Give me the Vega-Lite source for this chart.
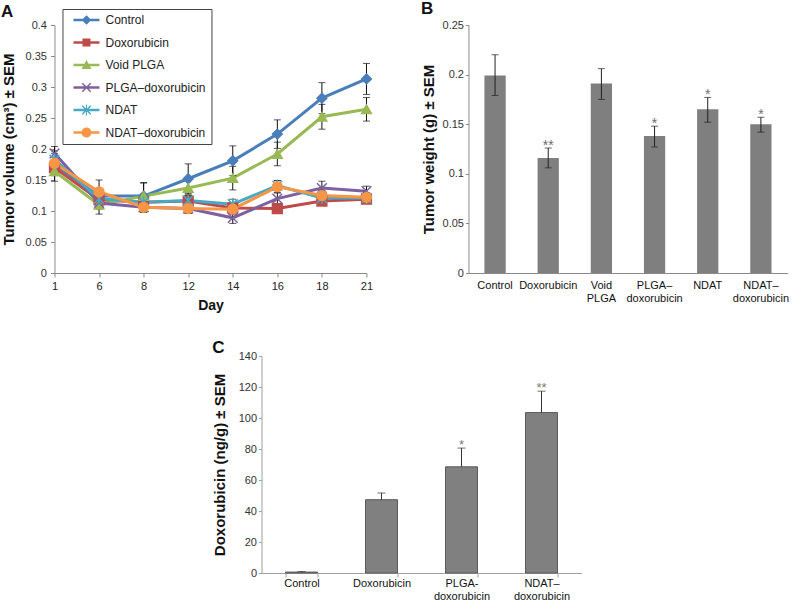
{
  "$schema": "https://vega.github.io/schema/vega-lite/v6.json",
  "padding": {"left": 1, "top": 0, "right": 0, "bottom": 0},
  "background": "white",
  "center": true,
  "spacing": 27,
  "config": {
    "view": {"stroke": null},
    "font": "Liberation Sans",
    "axis": {
      "domainColor": "#8a8a8a", "tickColor": "#8a8a8a", "labelColor": "#333333",
      "labelFont": "Liberation Sans", "labelFontSize": 11, "labelOverlap": false,
      "titleFont": "Liberation Sans", "titleFontSize": 15, "titleFontWeight": "bold", "titleColor": "#111111",
      "grid": false, "tickSize": 4
    },
    "title": {"font": "Liberation Sans", "fontSize": 17, "fontWeight": "bold", "anchor": "start", "frame": "bounds", "color": "#111111", "offset": 3}
  },
  "vconcat": [
    {
      "hconcat": [
        {
          "title": {"text": "A", "offset": -12},
          "width": 312,
          "height": 248,
          "data": {"values": [
            {"series": "Control", "day": 1, "v": 0.175, "lo": 0.163, "hi": 0.187},
            {"series": "Control", "day": 6, "v": 0.124, "lo": 0.112, "hi": 0.136},
            {"series": "Control", "day": 8, "v": 0.124, "lo": 0.102, "hi": 0.146},
            {"series": "Control", "day": 12, "v": 0.152, "lo": 0.128, "hi": 0.176},
            {"series": "Control", "day": 14, "v": 0.181, "lo": 0.157, "hi": 0.205},
            {"series": "Control", "day": 16, "v": 0.224, "lo": 0.201, "hi": 0.247},
            {"series": "Control", "day": 18, "v": 0.282, "lo": 0.257, "hi": 0.307},
            {"series": "Control", "day": 21, "v": 0.313, "lo": 0.288, "hi": 0.338},
            {"series": "Doxorubicin", "day": 1, "v": 0.170, "lo": 0.160, "hi": 0.180},
            {"series": "Doxorubicin", "day": 6, "v": 0.118, "lo": 0.108, "hi": 0.128},
            {"series": "Doxorubicin", "day": 8, "v": 0.114, "lo": 0.105, "hi": 0.123},
            {"series": "Doxorubicin", "day": 12, "v": 0.116, "lo": 0.106, "hi": 0.126},
            {"series": "Doxorubicin", "day": 14, "v": 0.105, "lo": 0.097, "hi": 0.113},
            {"series": "Doxorubicin", "day": 16, "v": 0.104, "lo": 0.096, "hi": 0.112},
            {"series": "Doxorubicin", "day": 18, "v": 0.116, "lo": 0.109, "hi": 0.123},
            {"series": "Doxorubicin", "day": 21, "v": 0.119, "lo": 0.113, "hi": 0.125},
            {"series": "Void PLGA", "day": 1, "v": 0.164, "lo": 0.148, "hi": 0.180},
            {"series": "Void PLGA", "day": 6, "v": 0.110, "lo": 0.095, "hi": 0.125},
            {"series": "Void PLGA", "day": 8, "v": 0.124, "lo": 0.103, "hi": 0.145},
            {"series": "Void PLGA", "day": 12, "v": 0.137, "lo": 0.125, "hi": 0.149},
            {"series": "Void PLGA", "day": 14, "v": 0.153, "lo": 0.134, "hi": 0.172},
            {"series": "Void PLGA", "day": 16, "v": 0.192, "lo": 0.173, "hi": 0.211},
            {"series": "Void PLGA", "day": 18, "v": 0.252, "lo": 0.232, "hi": 0.272},
            {"series": "Void PLGA", "day": 21, "v": 0.264, "lo": 0.245, "hi": 0.283},
            {"series": "PLGA–doxorubicin", "day": 1, "v": 0.193, "lo": 0.182, "hi": 0.204},
            {"series": "PLGA–doxorubicin", "day": 6, "v": 0.113, "lo": 0.103, "hi": 0.123},
            {"series": "PLGA–doxorubicin", "day": 8, "v": 0.106, "lo": 0.098, "hi": 0.114},
            {"series": "PLGA–doxorubicin", "day": 12, "v": 0.104, "lo": 0.096, "hi": 0.112},
            {"series": "PLGA–doxorubicin", "day": 14, "v": 0.089, "lo": 0.080, "hi": 0.098},
            {"series": "PLGA–doxorubicin", "day": 16, "v": 0.120, "lo": 0.110, "hi": 0.130},
            {"series": "PLGA–doxorubicin", "day": 18, "v": 0.137, "lo": 0.126, "hi": 0.148},
            {"series": "PLGA–doxorubicin", "day": 21, "v": 0.132, "lo": 0.124, "hi": 0.140},
            {"series": "NDAT", "day": 1, "v": 0.183, "lo": 0.173, "hi": 0.193},
            {"series": "NDAT", "day": 6, "v": 0.120, "lo": 0.110, "hi": 0.130},
            {"series": "NDAT", "day": 8, "v": 0.114, "lo": 0.106, "hi": 0.122},
            {"series": "NDAT", "day": 12, "v": 0.117, "lo": 0.109, "hi": 0.125},
            {"series": "NDAT", "day": 14, "v": 0.111, "lo": 0.103, "hi": 0.119},
            {"series": "NDAT", "day": 16, "v": 0.141, "lo": 0.133, "hi": 0.149},
            {"series": "NDAT", "day": 18, "v": 0.121, "lo": 0.113, "hi": 0.129},
            {"series": "NDAT", "day": 21, "v": 0.121, "lo": 0.114, "hi": 0.128},
            {"series": "NDAT–doxorubicin", "day": 1, "v": 0.177, "lo": 0.157, "hi": 0.197},
            {"series": "NDAT–doxorubicin", "day": 6, "v": 0.131, "lo": 0.112, "hi": 0.150},
            {"series": "NDAT–doxorubicin", "day": 8, "v": 0.106, "lo": 0.098, "hi": 0.114},
            {"series": "NDAT–doxorubicin", "day": 12, "v": 0.104, "lo": 0.096, "hi": 0.112},
            {"series": "NDAT–doxorubicin", "day": 14, "v": 0.103, "lo": 0.095, "hi": 0.111},
            {"series": "NDAT–doxorubicin", "day": 16, "v": 0.139, "lo": 0.129, "hi": 0.149},
            {"series": "NDAT–doxorubicin", "day": 18, "v": 0.125, "lo": 0.117, "hi": 0.133},
            {"series": "NDAT–doxorubicin", "day": 21, "v": 0.122, "lo": 0.114, "hi": 0.130}
          ]},
          "encoding": {
            "x": {
              "field": "day", "type": "ordinal",
              "scale": {"type": "point", "padding": 0},
              "axis": {"title": "Day", "titleFontSize": 14, "labelAngle": 0, "labelPadding": 3, "titlePadding": 7, "labelColor": "#222222"}
            }
          },
          "layer": [
            {
              "mark": {"type": "line", "strokeWidth": 3},
              "encoding": {
                "y": {
                  "field": "v", "type": "quantitative",
                  "scale": {"domain": [0, 0.4], "nice": false},
                  "axis": {"title": "Tumor volume (cm³) ± SEM", "values": [0, 0.05, 0.1, 0.15, 0.2, 0.25, 0.3, 0.35, 0.4], "tickCount": 20, "format": ".2~f", "labelOverlap": false, "labelPadding": 4, "titlePadding": 9}
                },
                "color": {
                  "field": "series", "type": "nominal", "legend": null,
                  "scale": {
                    "domain": ["Control", "Doxorubicin", "Void PLGA", "PLGA–doxorubicin", "NDAT", "NDAT–doxorubicin"],
                    "range": ["#4a7ebb", "#be4b48", "#98b954", "#7d60a0", "#46aac5", "#f79646"]
                  }
                }
              }
            },
            {
              "mark": {"type": "rule", "color": "#111111", "strokeWidth": 1},
              "encoding": {
                "y": {"field": "lo", "type": "quantitative", "axis": {"title": "Tumor volume (cm³) ± SEM", "values": [0, 0.05, 0.1, 0.15, 0.2, 0.25, 0.3, 0.35, 0.4], "tickCount": 20, "format": ".2~f", "labelOverlap": false, "labelPadding": 4, "titlePadding": 9}},
                "y2": {"field": "hi"}
              }
            },
            {
              "mark": {"type": "tick", "color": "#111111", "size": 7, "thickness": 1},
              "encoding": {"y": {"field": "lo", "type": "quantitative", "axis": {"title": "Tumor volume (cm³) ± SEM", "values": [0, 0.05, 0.1, 0.15, 0.2, 0.25, 0.3, 0.35, 0.4], "tickCount": 20, "format": ".2~f", "labelOverlap": false, "labelPadding": 4, "titlePadding": 9}}}
            },
            {
              "mark": {"type": "tick", "color": "#111111", "size": 7, "thickness": 1},
              "encoding": {"y": {"field": "hi", "type": "quantitative", "axis": {"title": "Tumor volume (cm³) ± SEM", "values": [0, 0.05, 0.1, 0.15, 0.2, 0.25, 0.3, 0.35, 0.4], "tickCount": 20, "format": ".2~f", "labelOverlap": false, "labelPadding": 4, "titlePadding": 9}}}
            },
            {
              "mark": {"type": "point", "filled": true, "strokeWidth": 1.5, "opacity": 1, "size": 95},
              "encoding": {
                "y": {"field": "v", "type": "quantitative", "axis": {"title": "Tumor volume (cm³) ± SEM", "values": [0, 0.05, 0.1, 0.15, 0.2, 0.25, 0.3, 0.35, 0.4], "tickCount": 20, "format": ".2~f", "labelOverlap": false, "labelPadding": 4, "titlePadding": 9}},
                "color": {
                  "field": "series", "type": "nominal", "legend": null,
                  "scale": {
                    "domain": ["Control", "Doxorubicin", "Void PLGA", "PLGA–doxorubicin", "NDAT", "NDAT–doxorubicin"],
                    "range": ["#4a7ebb", "#be4b48", "#98b954", "#7d60a0", "#46aac5", "#f79646"]
                  }
                },
                "stroke": {
                  "field": "series", "type": "nominal", "legend": null,
                  "scale": {
                    "domain": ["Control", "Doxorubicin", "Void PLGA", "PLGA–doxorubicin", "NDAT", "NDAT–doxorubicin"],
                    "range": ["#4a7ebb", "#be4b48", "#98b954", "#7d60a0", "#46aac5", "#f79646"]
                  }
                },
                "shape": {
                  "field": "series", "type": "nominal", "legend": null,
                  "scale": {
                    "domain": ["Control", "Doxorubicin", "Void PLGA", "PLGA–doxorubicin", "NDAT", "NDAT–doxorubicin"],
                    "range": ["diamond", "square", "triangle-up", "M-1,-1L1,1M-1,1L1,-1", "M-1,-1L1,1M-1,1L1,-1M0,-1.25L0,1.25", "circle"]
                  }
                }
              }
            },
            {
              "transform": [{"filter": "false"}],
              "mark": {"type": "point", "filled": true, "opacity": 1, "size": 100},
              "encoding": {
                "y": {"field": "v", "type": "quantitative", "axis": {"title": "Tumor volume (cm³) ± SEM", "values": [0, 0.05, 0.1, 0.15, 0.2, 0.25, 0.3, 0.35, 0.4], "tickCount": 20, "format": ".2~f", "labelOverlap": false, "labelPadding": 4, "titlePadding": 9}},
                "color": {
                  "field": "series", "type": "nominal",
                  "scale": {
                    "domain": ["Control", "Doxorubicin", "Void PLGA", "PLGA–doxorubicin", "NDAT", "NDAT–doxorubicin"],
                    "range": ["#4a7ebb", "#be4b48", "#98b954", "#7d60a0", "#46aac5", "#f79646"]
                  },
                  "legend": {
                    "orient": "none", "legendX": 8, "legendY": -16, "title": null,
                    "strokeColor": "#444444", "fillColor": "white", "padding": 5,
                    "labelFont": "Liberation Sans", "labelFontSize": 12, "labelColor": "#222222",
                    "symbolSize": 100, "symbolOffset": 13, "labelOffset": 13, "rowPadding": 10.5
                  }
                },
                "shape": {
                  "field": "series", "type": "nominal",
                  "scale": {
                    "domain": ["Control", "Doxorubicin", "Void PLGA", "PLGA–doxorubicin", "NDAT", "NDAT–doxorubicin"],
                    "range": [
                      "M-2.6,-0.25L2.6,-0.25L2.6,0.25L-2.6,0.25ZM0,-0.95L0.95,0L0,0.95L-0.95,0Z",
                      "M-2.6,-0.25L2.6,-0.25L2.6,0.25L-2.6,0.25ZM-0.8,-0.8L0.8,-0.8L0.8,0.8L-0.8,0.8Z",
                      "M-2.6,-0.25L2.6,-0.25L2.6,0.25L-2.6,0.25ZM0,-1L1,0.8L-1,0.8Z",
                      "M-2.6,-0.25L2.6,-0.25L2.6,0.25L-2.6,0.25ZM-0.95,-0.75L-0.75,-0.95L0.95,0.75L0.75,0.95ZM0.75,-0.95L0.95,-0.75L-0.75,0.95L-0.95,0.75Z",
                      "M-2.6,-0.25L2.6,-0.25L2.6,0.25L-2.6,0.25ZM-0.95,-0.75L-0.75,-0.95L0.95,0.75L0.75,0.95ZM0.75,-0.95L0.95,-0.75L-0.75,0.95L-0.95,0.75ZM-0.1,-1.1L0.1,-1.1L0.1,1.1L-0.1,1.1Z",
                      "M-2.6,-0.25L2.6,-0.25L2.6,0.25L-2.6,0.25ZM-1,0A1,1,0,1,1,1,0A1,1,0,1,1,-1,0Z"
                    ]
                  },
                  "legend": {
                    "orient": "none", "legendX": 8, "legendY": -16, "title": null,
                    "strokeColor": "#444444", "fillColor": "white", "padding": 5,
                    "labelFont": "Liberation Sans", "labelFontSize": 12, "labelColor": "#222222",
                    "symbolSize": 100, "symbolOffset": 13, "labelOffset": 13, "rowPadding": 10.5
                  }
                }
              }
            }
          ],
          "resolve": {
            "scale": {"color": "independent", "shape": "independent", "stroke": "independent"},
            "legend": {"color": "independent", "shape": "independent", "stroke": "independent"}
          }
        },
        {
          "title": {"text": "B", "offset": 1},
          "width": 319,
          "height": 248,
          "data": {"values": [
            {"g": "Control", "v": 0.199, "lo": 0.179, "hi": 0.220, "sig": ""},
            {"g": "Doxorubicin", "v": 0.116, "lo": 0.106, "hi": 0.126, "sig": "**"},
            {"g": "Void PLGA", "v": 0.191, "lo": 0.175, "hi": 0.206, "sig": ""},
            {"g": "PLGA–doxorubicin", "v": 0.138, "lo": 0.127, "hi": 0.148, "sig": "*"},
            {"g": "NDAT", "v": 0.165, "lo": 0.152, "hi": 0.177, "sig": "*"},
            {"g": "NDAT–doxorubicin", "v": 0.150, "lo": 0.142, "hi": 0.157, "sig": "*"}
          ]},
          "encoding": {
            "x": {
              "field": "g", "type": "nominal", "sort": null,
              "scale": {"paddingInner": 0.6, "paddingOuter": 0.3},
              "axis": {
                "title": null, "labelAngle": 0, "ticks": false, "labelPadding": 6, "labelColor": "#111111",
                "labelLineHeight": 13,
                "labelExpr": "datum.label == 'Void PLGA' ? ['Void', 'PLGA'] : datum.label == 'PLGA–doxorubicin' ? ['PLGA–', 'doxorubicin'] : datum.label == 'NDAT–doxorubicin' ? ['NDAT–', 'doxorubicin'] : datum.label"
              }
            }
          },
          "layer": [
            {
              "mark": {"type": "bar", "color": "#7f7f7f"},
              "encoding": {
                "y": {
                  "field": "v", "type": "quantitative",
                  "scale": {"domain": [0, 0.25], "nice": false},
                  "axis": {"title": "Tumor weight (g) ± SEM", "values": [0, 0.05, 0.1, 0.15, 0.2, 0.25], "tickCount": 20, "format": ".2~f", "labelOverlap": false, "labelPadding": 2, "tickSize": 3, "titlePadding": 6}
                }
              }
            },
            {
              "mark": {"type": "rule", "color": "#222222", "strokeWidth": 1},
              "encoding": {"y": {"field": "lo", "type": "quantitative", "axis": {"title": "Tumor weight (g) ± SEM", "values": [0, 0.05, 0.1, 0.15, 0.2, 0.25], "tickCount": 20, "format": ".2~f", "labelOverlap": false, "labelPadding": 2, "tickSize": 3, "titlePadding": 6}}, "y2": {"field": "hi"}}
            },
            {
              "mark": {"type": "tick", "color": "#222222", "size": 7, "thickness": 1},
              "encoding": {"y": {"field": "lo", "type": "quantitative", "axis": {"title": "Tumor weight (g) ± SEM", "values": [0, 0.05, 0.1, 0.15, 0.2, 0.25], "tickCount": 20, "format": ".2~f", "labelOverlap": false, "labelPadding": 2, "tickSize": 3, "titlePadding": 6}}}
            },
            {
              "mark": {"type": "tick", "color": "#222222", "size": 7, "thickness": 1},
              "encoding": {"y": {"field": "hi", "type": "quantitative", "axis": {"title": "Tumor weight (g) ± SEM", "values": [0, 0.05, 0.1, 0.15, 0.2, 0.25], "tickCount": 20, "format": ".2~f", "labelOverlap": false, "labelPadding": 2, "tickSize": 3, "titlePadding": 6}}}
            },
            {
              "mark": {"type": "text", "baseline": "alphabetic", "dy": 2, "fontSize": 14, "color": "#6e6e6e", "font": "Liberation Sans"},
              "encoding": {"y": {"field": "hi", "type": "quantitative", "axis": {"title": "Tumor weight (g) ± SEM", "values": [0, 0.05, 0.1, 0.15, 0.2, 0.25], "tickCount": 20, "format": ".2~f", "labelOverlap": false, "labelPadding": 2, "tickSize": 3, "titlePadding": 6}}, "text": {"field": "sig"}}
            }
          ]
        }
      ],
      "spacing": 102,
      "bounds": "flush"
    },
    {
      "title": {"text": "C", "offset": -7},
      "width": 320,
      "height": 217,
      "data": {"values": [
        {"g": "Control", "v": 0.6, "hi": 0.9, "sig": ""},
        {"g": "Doxorubicin", "v": 47.3, "hi": 51.6, "sig": ""},
        {"g": "PLGA-doxorubicin", "v": 68.5, "hi": 80.6, "sig": "*"},
        {"g": "NDAT–doxorubicin", "v": 103.5, "hi": 117.3, "sig": "**"}
      ]},
      "encoding": {
        "x": {
          "field": "g", "type": "nominal", "sort": null,
          "scale": {"paddingInner": 0.6, "paddingOuter": 0.3},
          "axis": {
            "title": null, "labelAngle": 0, "tickBand": "extent", "tickSize": 4, "labelPadding": 0, "labelColor": "#111111",
            "domainColor": "#a0a0a0", "tickColor": "#a0a0a0", "labelLineHeight": 13,
            "labelExpr": "datum.label == 'PLGA-doxorubicin' ? ['PLGA-', 'doxorubicin'] : datum.label == 'NDAT–doxorubicin' ? ['NDAT–', 'doxorubicin'] : datum.label"
          }
        }
      },
      "layer": [
        {
          "mark": {"type": "bar", "color": "#808080", "stroke": "#5a5a5a", "strokeWidth": 1},
          "encoding": {
            "y": {
              "field": "v", "type": "quantitative",
              "scale": {"domain": [0, 140], "nice": false},
              "axis": {"title": "Doxorubicin (ng/g) ± SEM", "values": [0, 20, 40, 60, 80, 100, 120, 140], "tickCount": 20, "labelOverlap": false, "labelPadding": 2, "tickSize": 3, "titlePadding": 11, "domainColor": "#a0a0a0", "tickColor": "#a0a0a0"}
            }
          }
        },
        {
          "mark": {"type": "rule", "color": "#333333", "strokeWidth": 1},
          "encoding": {"y": {"field": "v", "type": "quantitative", "axis": {"title": "Doxorubicin (ng/g) ± SEM", "values": [0, 20, 40, 60, 80, 100, 120, 140], "tickCount": 20, "labelOverlap": false, "labelPadding": 2, "tickSize": 3, "titlePadding": 11, "domainColor": "#a0a0a0", "tickColor": "#a0a0a0"}}, "y2": {"field": "hi"}}
        },
        {
          "mark": {"type": "tick", "color": "#333333", "size": 8, "thickness": 1},
          "encoding": {"y": {"field": "hi", "type": "quantitative", "axis": {"title": "Doxorubicin (ng/g) ± SEM", "values": [0, 20, 40, 60, 80, 100, 120, 140], "tickCount": 20, "labelOverlap": false, "labelPadding": 2, "tickSize": 3, "titlePadding": 11, "domainColor": "#a0a0a0", "tickColor": "#a0a0a0"}}}
        },
        {
          "mark": {"type": "text", "baseline": "alphabetic", "dy": 1, "fontSize": 13, "color": "#7a7a7a", "font": "Liberation Sans"},
          "encoding": {"y": {"field": "hi", "type": "quantitative", "axis": {"title": "Doxorubicin (ng/g) ± SEM", "values": [0, 20, 40, 60, 80, 100, 120, 140], "tickCount": 20, "labelOverlap": false, "labelPadding": 2, "tickSize": 3, "titlePadding": 11, "domainColor": "#a0a0a0", "tickColor": "#a0a0a0"}}, "text": {"field": "sig"}}
        }
      ]
    }
  ]
}
